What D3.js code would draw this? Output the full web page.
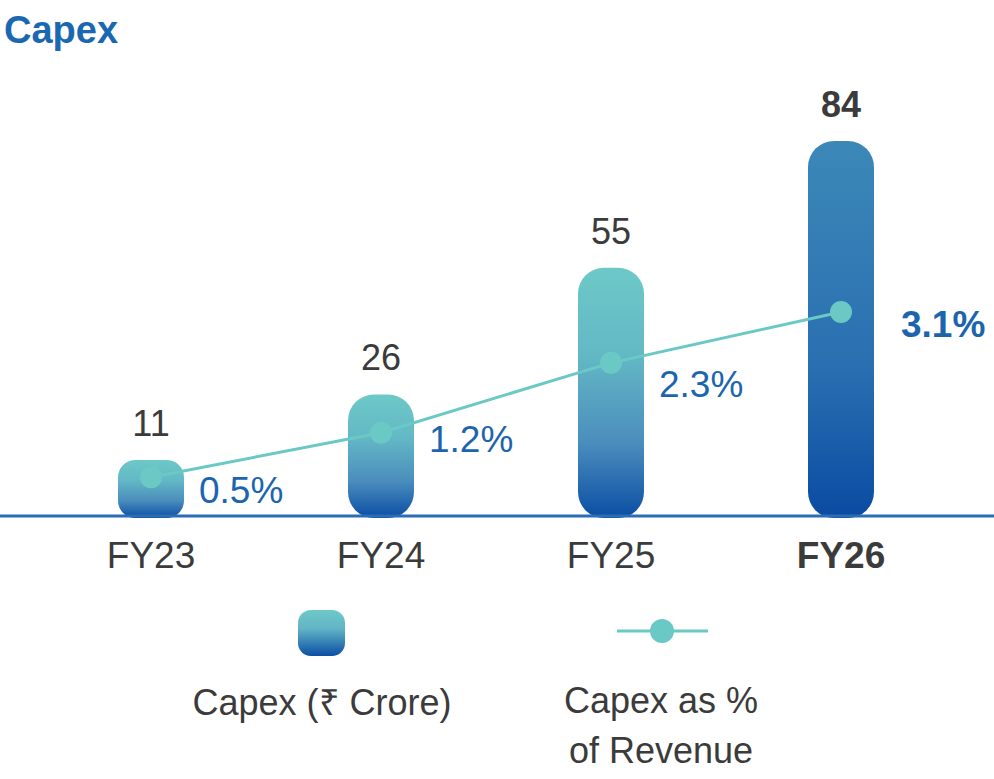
<!DOCTYPE html>
<html>
<head>
<meta charset="utf-8">
<script src="https://cdn.jsdelivr.net/npm/d3@7"></script>
<style>
	body { margin: 0; background: #fff; }
	text { font-family: "Liberation Sans", Arial, sans-serif; }
</style>
</head>
<body>
<script>
//Chart data
let years = ["FY23", "FY24", "FY25", "FY26"];
let capex = [11, 26, 55, 84]; //Capex in Rs Crore
let capexPct = [0.5, 1.2, 2.3, 3.1]; //Capex as % of revenue
let highlight = "FY26";

//Label nudges for the % labels (px below the dot)
let pctDy = [26, 19, 34, 25];

window.onload = function(){
	let w = 994, h = 779;
	let baseY = 516;

	let svg = d3.select("body")
		.append("svg")
		.attr("width", w)
		.attr("height", h);

	//Gradients for the bars
	let defs = svg.append("defs");
	let makeGrad = function(id, stops){
		let g = defs.append("linearGradient")
			.attr("id", id)
			.attr("x1", 0).attr("y1", 0)
			.attr("x2", 0).attr("y2", 1);
		stops.forEach(function(s){
			g.append("stop").attr("offset", s[0]).attr("stop-color", s[1]);
		});
	};
	makeGrad("gradTeal", [[0, "#6dc9c8"], [0.35, "#63b8c5"], [0.7, "#4b8dbd"], [1, "#0b4ea4"]]);
	makeGrad("gradBlue", [[0, "#3b88b8"], [0.6, "#2a6fb1"], [1, "#0a4ba2"]]);
	makeGrad("gradLeg", [[0, "#6dc9c8"], [0.4, "#62b5c5"], [1, "#0b4ea4"]]);

	//Scales
	let x = d3.scaleBand()
		.domain(years)
		.range([36, 956]);

	let y = d3.scaleLinear()
		.domain([0, 84])
		.range([508, 141]);

	let yPct = d3.scaleLinear()
		.domain([0, 3.1])
		.range([509, 312]);

	let barW = 66;
	let cx = function(d){ return x(d) + x.bandwidth() / 2; };

	//Title
	svg.append("text")
		.attr("x", 4)
		.attr("y", 43)
		.style("font-size", "38px")
		.style("font-weight", "bold")
		.style("fill", "#1a68b1")
		.text("Capex");

	//Bars
	svg.selectAll(".bar")
		.data(years)
		.enter()
		.append("rect")
		.attr("class", "bar")
		.attr("x", function(d){ return cx(d) - barW / 2; })
		.attr("y", function(d, i){ return y(capex[i]); })
		.attr("width", barW)
		.attr("height", function(d, i){ return baseY + 2 - y(capex[i]); })
		.attr("rx", function(d, i){ return Math.min(26, (baseY + 2 - y(capex[i])) * 0.3); })
		.style("fill", function(d){ return d === highlight ? "url(#gradBlue)" : "url(#gradTeal)"; });

	//Baseline
	svg.append("line")
		.attr("x1", 0)
		.attr("x2", w)
		.attr("y1", baseY)
		.attr("y2", baseY)
		.style("stroke", "#2a6db4")
		.style("stroke-width", 3);

	//Value labels
	svg.selectAll(".val")
		.data(years)
		.enter()
		.append("text")
		.attr("class", "val")
		.attr("x", cx)
		.attr("y", function(d, i){ return y(capex[i]) - 24; })
		.attr("text-anchor", "middle")
		.style("font-size", "36px")
		.style("font-weight", function(d){ return d === highlight ? "bold" : "normal"; })
		.style("fill", "#3b3b3b")
		.text(function(d, i){ return capex[i]; });

	//Line for % of revenue
	let line = d3.line()
		.x(function(d){ return cx(d); })
		.y(function(d, i){ return yPct(capexPct[i]); });

	svg.append("path")
		.datum(years)
		.attr("d", line)
		.style("fill", "none")
		.style("stroke", "#6ac9c5")
		.style("stroke-width", 3);

	svg.selectAll(".dot")
		.data(years)
		.enter()
		.append("circle")
		.attr("class", "dot")
		.attr("cx", cx)
		.attr("cy", function(d, i){ return yPct(capexPct[i]); })
		.attr("r", 11)
		.style("fill", "#6ac9c5");

	//% labels
	svg.selectAll(".pct")
		.data(years)
		.enter()
		.append("text")
		.attr("class", "pct")
		.attr("x", function(d){ return cx(d) + barW / 2 + (d === highlight ? 27 : 15); })
		.attr("y", function(d, i){ return yPct(capexPct[i]) + pctDy[i]; })
		.style("font-size", "37px")
		.style("font-weight", function(d){ return d === highlight ? "bold" : "normal"; })
		.style("fill", "#1c65ae")
		.text(function(d, i){ return capexPct[i].toFixed(1) + "%"; });

	//Category axis labels
	svg.selectAll(".cat")
		.data(years)
		.enter()
		.append("text")
		.attr("class", "cat")
		.attr("x", cx)
		.attr("y", 568)
		.attr("text-anchor", "middle")
		.style("font-size", "37px")
		.style("font-weight", function(d){ return d === highlight ? "bold" : "normal"; })
		.style("fill", "#3b3b3b")
		.text(function(d){ return d; });

	//Legend
	svg.append("rect")
		.attr("x", 298)
		.attr("y", 610)
		.attr("width", 47)
		.attr("height", 46)
		.attr("rx", 13)
		.style("fill", "url(#gradLeg)");

	svg.append("line")
		.attr("x1", 617)
		.attr("x2", 708)
		.attr("y1", 631)
		.attr("y2", 631)
		.style("stroke", "#6ac9c5")
		.style("stroke-width", 3);

	svg.append("circle")
		.attr("cx", 662)
		.attr("cy", 631)
		.attr("r", 12)
		.style("fill", "#6ac9c5");

	let legText = svg.append("g")
		.style("font-size", "36px")
		.style("fill", "#3b3b3b")
		.attr("text-anchor", "middle");

	legText.append("text")
		.attr("x", 322)
		.attr("y", 715)
		.text("Capex (₹ Crore)");

	legText.append("text")
		.attr("x", 661)
		.attr("y", 713)
		.text("Capex as %");

	legText.append("text")
		.attr("x", 661)
		.attr("y", 763)
		.text("of Revenue");
};
</script>
</body>
</html>
